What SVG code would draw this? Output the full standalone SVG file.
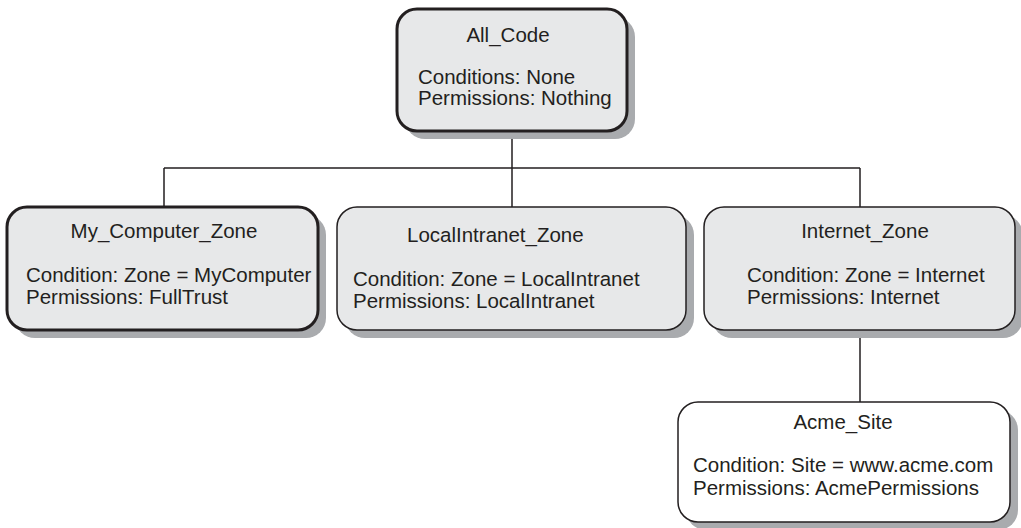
<svg xmlns="http://www.w3.org/2000/svg" width="1021" height="528" viewBox="0 0 1021 528">
<style>
.shadow{fill:#a9abae;stroke:none}
.box{fill:#e7e8e9;stroke:#231f20;stroke-width:1.5}
.bold{stroke-width:3}
.white{fill:#ffffff}
.t{font-family:"Liberation Sans",Arial,sans-serif;font-size:20.5px;fill:#231f20}
.c{text-anchor:middle}
.line{stroke:#231f20;stroke-width:1.5;fill:none}
</style>
<rect width="1021" height="528" fill="#ffffff"/>
<g id="connectors">
<path class="line" d="M512 131V168M164 168H860M164 168V207M512 168V207M860 168V207M860 330V402"/>
</g>
<g id="all_code">
<rect class="shadow" x="405" y="17" width="230" height="122" rx="20"/>
<rect class="box bold" x="397" y="9" width="230" height="122" rx="20"/>
<text class="t c" x="508" y="42">All_Code</text>
<text class="t" x="418" y="84">Conditions: None</text>
<text class="t" x="418" y="105">Permissions: Nothing</text>
</g>
<g id="my_computer_zone">
<rect class="shadow" x="15" y="215" width="311" height="123" rx="20"/>
<rect class="box bold" x="7" y="207" width="311" height="123" rx="20"/>
<text class="t c" x="164" y="238">My_Computer_Zone</text>
<text class="t" x="26" y="282">Condition: Zone = MyComputer</text>
<text class="t" x="26" y="304">Permissions: FullTrust</text>
</g>
<g id="localintranet_zone">
<rect class="shadow" x="345" y="215" width="349" height="123" rx="20"/>
<rect class="box" x="337" y="207" width="349" height="123" rx="20"/>
<text class="t" x="407" y="242">LocalIntranet_Zone</text>
<text class="t" x="353" y="286">Condition: Zone = LocalIntranet</text>
<text class="t" x="353" y="308">Permissions: LocalIntranet</text>
</g>
<g id="internet_zone">
<rect class="shadow" x="712" y="215" width="311" height="123" rx="20"/>
<rect class="box" x="704" y="207" width="311" height="123" rx="20"/>
<text class="t c" x="865" y="238">Internet_Zone</text>
<text class="t" x="747" y="282">Condition: Zone = Internet</text>
<text class="t" x="747" y="304">Permissions: Internet</text>
</g>
<g id="acme_site">
<rect class="shadow" x="686" y="410" width="332" height="120" rx="20"/>
<rect class="box white" x="678" y="402" width="332" height="120" rx="20"/>
<text class="t c" x="843" y="429">Acme_Site</text>
<text class="t" x="693" y="472">Condition: Site = www.acme.com</text>
<text class="t" x="693" y="495">Permissions: AcmePermissions</text>
</g>
</svg>
